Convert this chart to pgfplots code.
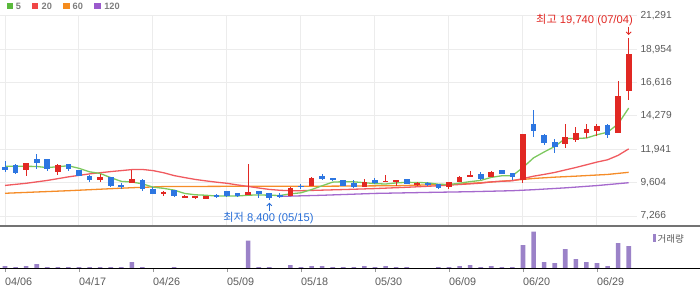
\documentclass[border=0pt]{standalone}
\usepackage{pgfplots}
\pgfplotsset{compat=1.18}
\usepackage{pgfplotstable}
\usepackage{fontspec}
\setmainfont{Liberation Sans}
\newfontfamily\kr{Noto Sans CJK KR}
\usetikzlibrary{arrows.meta}
\definecolor{cred}{RGB}{225,40,35}
\definecolor{cblue}{RGB}{45,118,225}
\definecolor{maA}{RGB}{125,200,95}
\definecolor{maB}{RGB}{240,90,95}
\definecolor{maC}{RGB}{245,140,40}
\definecolor{maD}{RGB}{165,105,205}
\definecolor{vol}{RGB}{155,130,200}
\definecolor{gridc}{RGB}{236,236,236}
\definecolor{lgA}{RGB}{90,185,60}
\definecolor{lgB}{RGB}{240,70,70}
\definecolor{lgC}{RGB}{245,140,30}
\definecolor{lgD}{RGB}{155,90,205}
\definecolor{txt}{RGB}{90,90,90}
\definecolor{lgt}{RGB}{125,125,125}
\definecolor{lowblue}{RGB}{40,110,215}
\definecolor{darkline}{RGB}{115,115,115}
\definecolor{baseline}{RGB}{140,140,140}

\pgfplotstableread{
i o h l c
2 10498 10966 10079 10966
5 10358 10896 10128 10826
9 9779 10177 9660 9989
12 9590 10527 9590 9849
15 8801 9032 8683 8941
17 8543 8753 8501 8683
18 8543 8700 8453 8662
19 8453 8700 8453 8662
23 8732 10896 8732 8941
27 8683 9311 8683 9241
29 9339 9967 9339 9918
34 9311 9849 9311 9618
36 9660 10128 9618 9730
37 9618 9800 9381 9758
39 9450 9639 9381 9569
42 9290 9639 9150 9618
43 9639 10058 9639 9988
44 9989 10407 9989 10107
46 9989 10407 9989 10317
49 9758 12990 9590 12990
53 12341 13737 12034 12780
54 12570 13478 12452 13060
55 13060 13737 12760 13338
56 13220 13737 12870 13548
58 13080 16759 13080 15712
59 16060 19740 15420 18608
}\up

\pgfplotstableread{
i o h l c
0 10686 11105 10337 10477
1 10826 10944 10220 10290
3 11293 11594 10596 10986
4 11245 11245 10428 10568
6 10944 10944 10428 10595
7 10477 10500 10050 10079
8 10058 10128 9639 9758
10 9989 10000 9290 9360
11 9430 9570 9170 9290
13 9779 9849 8990 9130
14 9172 9270 8822 8822
16 9060 9060 8592 8662
20 8730 8801 8543 8662
21 9011 9011 8570 8683
22 8872 8872 8592 8662
24 9011 9011 8543 8781
25 8850 8850 8400 8543
26 8753 8892 8501 8592
28 9380 9500 9172 9311
30 10058 10219 9800 9870
31 9910 9910 9688 9860
32 9758 9758 9339 9381
33 9590 9779 9200 9269
35 9779 9898 9478 9548
38 9849 9870 9478 9478
40 9590 9640 9360 9430
41 9478 9500 9172 9241
45 10177 10337 9758 9849
47 10527 10527 10177 10177
48 10267 10267 9800 10010
50 13690 14665 12800 13220
51 12970 12990 12242 12382
52 12452 12640 11712 12103
57 13618 13737 12730 12969
}\down

\pgfplotstableread{
i v
0 2
1 1
2 2
3 4
4 1
5 1
6 1
7 1
8 1
9 1
10 1
11 1
12 6
13 1
14 0
15 0
16 1
17 0
18 0
19 0
20 0
21 0
22 0
23 27.3
24 1
25 1
26 0
27 3
28 1
29 2
30 2
31 1
32 1
33 1
34 2
35 1
36 2
37 1
38 1
39 0
40 0
41 1
42 1
43 2
44 3
45 1
46 2
47 1
48 1
49 23
50 36.3
51 6
52 5
53 19
54 9
55 6
56 5
57 2
58 25
59 22
}\volume

\begin{document}
\begin{tikzpicture}
\begin{axis}[
  at={(0pt,63pt)}, anchor=south west, scale only axis,
  width=637pt, height=210pt,
  xmin=-0.473, xmax=59.786, ymin=6565, ymax=21291,
  axis line style={draw=none},
  major tick length=0pt,
  scaled y ticks=false,
  xtick={0,7,...,56}, xticklabels={,,,,,,,,,},
  ytick={7266,9604,11941,14279,16616,18954,21291},
  yticklabels={{7,266},{9,604},{11,941},{14,279},{16,616},{18,954},{21,291}},
  yticklabel pos=right,
  yticklabel style={font=\fontsize{10.2}{12}\selectfont, text=txt, anchor=west},
  grid=major, major grid style={draw=gridc, line width=1pt},
  clip=false,
]
\addplot[maD, line width=1.3pt] coordinates {
(26,8640) (30,8720) (35,8850) (40,8920) (44,8970) (48,9040) (50,9110) (53,9240) (56,9400) (59,9600)};
\addplot[maC, line width=1.3pt] coordinates {
(0,8860) (6,9040) (12,9250) (15,9330) (22,9350) (30,9355) (37,9390) (43,9500) (48,9760) (50,9900) (52,9990) (54,10060) (57,10180) (59,10330)};
\addplot[maB, line width=1.3pt] coordinates {
(0,9410) (2,9560) (4,9760) (6,10010) (8,10220) (10,10380) (12,10520) (13,10530) (14,10450) (15,10300) (16,10100) (17,9960) (18,9830) (19,9730) (20,9639) (21,9559) (22,9443) (23,9341) (24,9230) (25,9130) (26,9070) (27,9040) (28,9040) (29,9060) (30,9080) (32,9120) (35,9190) (38,9280) (40,9350) (42,9430) (44,9520) (45,9569) (46,9656) (47,9702) (48,9737) (49,9891) (50,10058) (51,10184) (52,10320) (53,10496) (54,10668) (55,10857) (56,11048) (57,11209) (58,11520) (59,11972)};
\addplot[maA, line width=1.3pt] coordinates {
(0,10750) (1,10750) (2,10750) (3,10740) (4,10657) (5,10727) (6,10788) (7,10611) (8,10365) (9,10249) (10,9956) (11,9695) (12,9649) (13,9524) (14,9290) (15,9206) (16,9081) (17,8848) (18,8754) (19,8722) (20,8666) (21,8670) (22,8670) (23,8722) (24,8746) (25,8722) (26,8704) (27,8820) (28,8894) (29,9121) (30,9386) (31,9642) (32,9670) (33,9662) (34,9602) (35,9537) (36,9509) (37,9585) (38,9626) (39,9617) (40,9593) (41,9495) (42,9467) (43,9569) (44,9677) (45,9761) (46,9976) (47,10088) (48,10092) (49,10669) (50,11343) (51,11756) (52,12141) (53,12695) (54,12709) (55,12733) (56,12966) (57,13139) (58,13725) (59,14835)};
% wicks
\addplot[draw=none, mark=none, error bars/.cd, y dir=both, y explicit, error mark=none,
  error bar style={line width=1pt, draw=cred}]
  table[x=i, y expr={(\thisrow{h}+\thisrow{l})/2}, y error expr={(\thisrow{h}-\thisrow{l})/2}] {\up};
\addplot[draw=none, mark=none, error bars/.cd, y dir=both, y explicit, error mark=none,
  error bar style={line width=1pt, draw=cblue}]
  table[x=i, y expr={(\thisrow{h}+\thisrow{l})/2}, y error expr={(\thisrow{h}-\thisrow{l})/2}] {\down};
% bodies
\addplot[draw=none, mark=none, error bars/.cd, y dir=both, y explicit, error mark=none,
  error bar style={line width=5.6pt, draw=cred}]
  table[x=i, y expr={(\thisrow{o}+\thisrow{c})/2}, y error expr={abs(\thisrow{c}-\thisrow{o})/2}] {\up};
\addplot[draw=none, mark=none, error bars/.cd, y dir=both, y explicit, error mark=none,
  error bar style={line width=5.6pt, draw=cblue}]
  table[x=i, y expr={(\thisrow{o}+\thisrow{c})/2}, y error expr={abs(\thisrow{c}-\thisrow{o})/2}] {\down};
% annotations
\draw[cred, line width=0.9pt, -{Straight Barb[length=2.5pt,width=5pt]}] ([yshift=11.4pt]axis cs:59,19740) -- ([yshift=3.1pt]axis cs:59,19740);
\node[anchor=base east, inner sep=0pt, text=cred, font=\fontsize{11.2}{12}\selectfont] at ([xshift=4.3pt,yshift=14.8pt]axis cs:59,19740) {{\kr 최고} 19,740 (07/04)};
\draw[lowblue, line width=0.9pt, -{Straight Barb[length=2.5pt,width=5pt]}] ([yshift=-10.9pt]axis cs:25,8400) -- ([yshift=-2.9pt]axis cs:25,8400);
\node[anchor=base, inner sep=0pt, text=lowblue, font=\fontsize{11.2}{12}\selectfont] at ([xshift=-0.8pt,yshift=-21.9pt]axis cs:25,8400) {{\kr 최저} 8,400 (05/15)};
\end{axis}

\begin{axis}[
  at={(0pt,21pt)}, anchor=south west, scale only axis,
  width=637pt, height=40pt,
  xmin=-0.473, xmax=59.786, ymin=0, ymax=40,
  hide y axis,
  axis x line*=bottom,
  x axis line style={draw=none},
  xtick={0,7,...,56},
  xticklabels={04/06,04/17,04/26,05/09,05/18,05/30,06/09,06/20,06/29},
  tick align=outside, major tick length=4pt,
  tick style={draw=gray!80, line width=0.8pt},
  xticklabel style={font=\fontsize{10.8}{12}\selectfont, text=txt, anchor=north west, inner sep=0pt, yshift=-5.5pt},
  clip=false,
]
\addplot[ybar, bar width=4.6pt, fill=vol, draw=none] table[x=i, y=v] {\volume};
\end{axis}

\draw[darkline, line width=1.3pt] (0pt,63pt) -- (700pt,63pt);
\draw[baseline, line width=0.9pt] (0pt,21pt) -- (700pt,21pt);

% volume legend
\fill[vol] (653pt,47pt) rectangle (656pt,55pt);
\node[anchor=base west, inner sep=0pt, text=txt, font=\kr\fontsize{9.5}{11}\selectfont] at (657.5pt,46.8pt) {거래량};

% MA legend
\fill[lgA] (6.7pt,279.7pt) rectangle (12.7pt,286.3pt);
\node[anchor=base west, inner sep=0pt, text=lgt, font=\bfseries\fontsize{9.2}{10}\selectfont] at (15.8pt,279.4pt) {5};
\fill[lgB] (32pt,279.7pt) rectangle (38.3pt,286.3pt);
\node[anchor=base west, inner sep=0pt, text=lgt, font=\bfseries\fontsize{9.2}{10}\selectfont] at (41.5pt,279.4pt) {20};
\fill[lgC] (63.3pt,279.7pt) rectangle (69.7pt,286.3pt);
\node[anchor=base west, inner sep=0pt, text=lgt, font=\bfseries\fontsize{9.2}{10}\selectfont] at (72.5pt,279.4pt) {60};
\fill[lgD] (94pt,279.7pt) rectangle (100.7pt,286.3pt);
\node[anchor=base west, inner sep=0pt, text=lgt, font=\bfseries\fontsize{9.2}{10}\selectfont] at (104.1pt,279.4pt) {120};

\pgfresetboundingbox
\useasboundingbox (0pt,0pt) rectangle (700pt,289pt);
\end{tikzpicture}
\end{document}
